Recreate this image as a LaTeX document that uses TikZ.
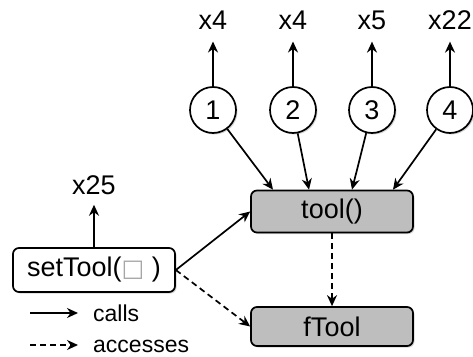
\documentclass[tikz,border=0pt]{standalone}
\usepackage{fontspec}
\setmainfont{Liberation Sans}
\newfontfamily\symfont{DejaVu Sans}
\usetikzlibrary{arrows.meta,shadows}
\definecolor{boxgray}{HTML}{BEBEBE}
\tikzset{
  base/.style={line width=1.7pt, font=\fontsize{27}{30}\selectfont},
  fnbox/.style={base, draw, rounded corners=6pt, minimum width=162pt,
    drop shadow={shadow xshift=1.5pt, shadow yshift=-1.5pt, opacity=0.35}},
  whitebox/.style={fnbox, fill=white, minimum height=44pt},
  graybox/.style={fnbox, fill=boxgray, minimum height=42pt},
  num/.style={base, draw, circle, fill=white, minimum size=46pt, inner sep=0pt,
    drop shadow={shadow xshift=1.5pt, shadow yshift=-1.5pt, opacity=0.35}},
  count/.style={font=\fontsize{27}{30}\selectfont, inner xsep=0pt, inner ysep=12pt},
  call/.style={line width=1.7pt, -{Stealth[length=11pt,width=10pt]}},
  access/.style={call, dashed, dash pattern=on 6pt off 4pt},
  legend/.style={font=\fontsize{23}{26}\selectfont, inner sep=0pt, anchor=base west}
}
\begin{document}
\begin{tikzpicture}[x=1pt,y=-1pt]
\useasboundingbox (0,0) rectangle (473,356);

% function boxes
\node[whitebox] (set) at (94,270) {setTool({\symfont\textcolor{gray!70}{\fontsize{24}{26}\selectfont□}} )};
\node[graybox] (tool) at (332,211.5) {tool()};
\node[graybox, minimum height=39pt] (ftool) at (332,326.5) {fTool};

% numbered call sites
\node[num] (c1) at (213,110) {1};
\node[num] (c2) at (293,110) {2};
\node[num] (c3) at (372,110) {3};
\node[num] (c4) at (450,110) {4};

% call counts
\node[count] (n1) at (213,20) {x4};
\node[count] (n2) at (293,20) {x4};
\node[count] (n3) at (372,20) {x5};
\node[count] (n4) at (450,20) {x22};
\node[count, inner ysep=10pt] (n5) at (94,185) {x25};

\draw[call] (c1) -- (n1);
\draw[call] (c2) -- (n2);
\draw[call] (c3) -- (n3);
\draw[call] (c4) -- (n4);
\draw[call] (set) -- (n5);

% calls into tool()
\draw[call] (c1) -- (tool.north -| 273,0);
\draw[call] (c2) -- (tool.north -| 309,0);
\draw[call] (c3) -- (tool.north -| 352,0);
\draw[call] (c4) -- (tool.north -| 393,0);
\draw[call] (set.east) -- (tool.west);

% field accesses
\draw[access] (tool) -- (ftool);
\draw[access] (set.east) -- (ftool.west);

% legend
\coordinate (k1a) at (30,313);
\coordinate (k1b) at (78,313);
\coordinate (k2a) at (30,345);
\coordinate (k2b) at (78,345);
\draw[call] (k1a) -- (k1b);
\draw[access] (k2a) -- (k2b);
\node[legend] (l1) at (93,321) {calls};
\node[legend] (l2) at (93,352) {accesses};
\end{tikzpicture}
\end{document}
